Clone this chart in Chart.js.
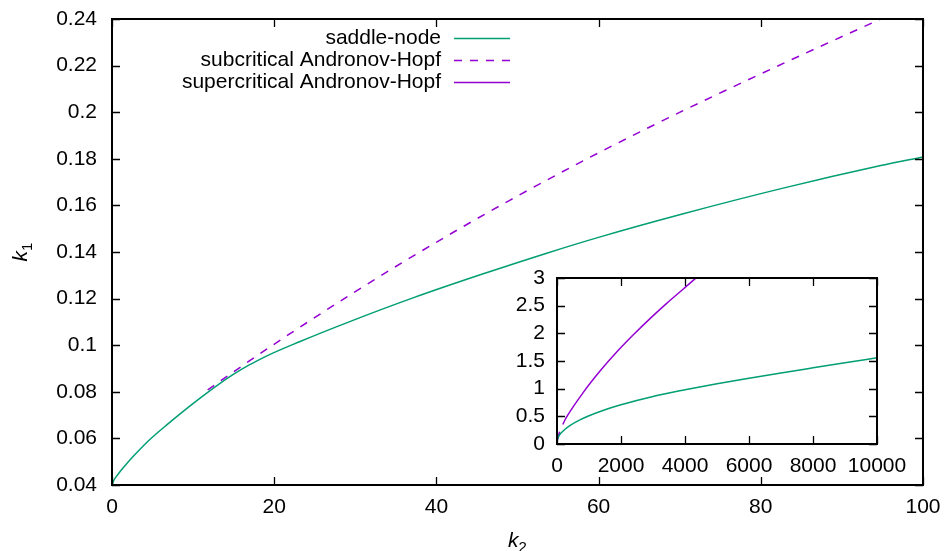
<!DOCTYPE html>
<html>
<head>
<meta charset="utf-8">
<script src="https://cdn.jsdelivr.net/npm/chart.js@4.4.0/dist/chart.umd.min.js"></script>
<style>
  body { margin: 0; background: #fff; }
  #wrap { position: relative; width: 948px; height: 551px; }
  #main { position: absolute; left: 0; top: 0; }
  #inset { position: absolute; left: 490px; top: 262px; }
</style>
</head>
<body>
<div id="wrap">
  <canvas id="main" width="948" height="551"></canvas>
  <canvas id="inset" width="420" height="215"></canvas>
</div>
<script>
// main plot: saddle-node curve
const snK2 = [0.02, 0.2, 0.5, 1, 1.7, 2.6, 4.5, 6.75, 10.9, 15, 19.1, 23.2, 29, 37.2, 45.4, 53.7, 60.2, 70.1, 82.5, 94.8, 100];
const snK1 = [0.0400, 0.0418, 0.0435, 0.0458, 0.0487, 0.0522, 0.0590, 0.0658, 0.0774, 0.0876, 0.0954, 0.1016, 0.1097, 0.1204, 0.1302, 0.1396, 0.1465, 0.1561, 0.1672, 0.1771, 0.1808];
// main plot: subcritical Andronov-Hopf
const subK2 = [11.8, 15, 21.8, 30, 36, 43, 49.1, 57.8, 66, 75.5, 85, 94.8, 96.5];
const subK1 = [0.0808, 0.0886, 0.1046, 0.1230, 0.1359, 0.1503, 0.1623, 0.1786, 0.1931, 0.2091, 0.2245, 0.2400, 0.2427];

// inset
const inSnK2 = [0, 20, 50, 100, 200, 400, 700, 1000, 1500, 2000, 3000, 4000, 5000, 6000, 7000, 8000, 9000, 10000];
const inSnK1 = [0.04, 0.098, 0.135, 0.18, 0.24, 0.33, 0.43, 0.51, 0.62, 0.71, 0.86, 0.98, 1.09, 1.19, 1.285, 1.377, 1.468, 1.558];
const inSubK2 = [12, 50, 95, 150, 200, 250];
const inSubK1 = [0.081, 0.162, 0.24, 0.31, 0.375, 0.435];
const inSupK2 = [250, 302, 823, 1344, 1865, 2385, 2906, 3427, 3948, 4312, 4500];
const inSupK1 = [0.435, 0.490, 0.933, 1.318, 1.662, 1.974, 2.266, 2.542, 2.802, 2.985, 3.075];

const xTicks = [0, 20, 40, 60, 80, 100];
const yTicks = [0.04, 0.06, 0.08, 0.1, 0.12, 0.14, 0.16, 0.18, 0.2, 0.22, 0.24];
const inXTicks = [0, 2000, 4000, 6000, 8000, 10000];
const inYTicks = [0, 0.5, 1, 1.5, 2, 2.5, 3];

const green = '#009e73';
const purple = '#9400d3';
const FONT = '"Liberation Sans", Arial, sans-serif';
const tickFont = { family: FONT, size: 21 };

const pts = (xs, ys) => xs.map((x, i) => ({ x: x, y: ys[i] }));

// gnuplot style: box round the plot, ticks pointing inwards on all sides
const boxTicks = {
  id: 'boxTicks',
  afterDraw(chart) {
    const { ctx, chartArea: a, scales: { x, y } } = chart;
    const len = 8;
    ctx.save();
    ctx.strokeStyle = '#000';
    ctx.lineWidth = 1.3;
    ctx.beginPath();
    x.ticks.forEach(t => {
      const px = Math.round(x.getPixelForValue(t.value)) + 0.5;
      ctx.moveTo(px, a.bottom); ctx.lineTo(px, a.bottom - len);
      ctx.moveTo(px, a.top); ctx.lineTo(px, a.top + len);
    });
    y.ticks.forEach(t => {
      const py = Math.round(y.getPixelForValue(t.value)) + 0.5;
      ctx.moveTo(a.left, py); ctx.lineTo(a.left + len, py);
      ctx.moveTo(a.right, py); ctx.lineTo(a.right - len, py);
    });
    ctx.stroke();
    ctx.lineWidth = 2;
    ctx.strokeRect(a.left, a.top, a.right - a.left, a.bottom - a.top);
    ctx.restore();
  }
};

function drawK(ctx, sub, cx, base) {
  ctx.font = 'italic 21px ' + FONT;
  const kw = ctx.measureText('k').width;
  ctx.font = '15px ' + FONT;
  const sw = ctx.measureText(sub).width;
  const left = cx - (kw + sw) / 2;
  ctx.fillStyle = '#000';
  ctx.textAlign = 'left';
  ctx.textBaseline = 'alphabetic';
  ctx.font = 'italic 21px ' + FONT;
  ctx.fillText('k', left, base);
  ctx.font = '15px ' + FONT;
  ctx.fillText(sub, left + kw, base + 5);
}

const axisTitles = {
  id: 'axisTitles',
  afterDraw(chart) {
    const { ctx, chartArea: a } = chart;
    ctx.save();
    drawK(ctx, '2', (a.left + a.right) / 2, 547);
    ctx.translate(27, (a.top + a.bottom) / 2);
    ctx.rotate(-Math.PI / 2);
    drawK(ctx, '1', 0, 0);
    ctx.restore();
  }
};

const gnuLegend = {
  id: 'gnuLegend',
  afterDraw(chart) {
    const ctx = chart.ctx;
    ctx.save();
    ctx.font = '21px ' + FONT;
    ctx.textAlign = 'right';
    ctx.textBaseline = 'middle';
    chart.data.datasets.forEach((ds, i) => {
      const y = 38 + i * 22;
      ctx.fillStyle = '#000';
      ctx.fillText(ds.label, 441, y);
      ctx.strokeStyle = ds.borderColor;
      ctx.lineWidth = 1.5;
      ctx.setLineDash(ds.borderDash || []);
      ctx.beginPath();
      ctx.moveTo(454, y + 0.5); ctx.lineTo(510, y + 0.5);
      ctx.stroke();
    });
    ctx.restore();
  }
};

// fixed axis size, and no extra room for labels hanging over the plot edges
const fixSize = (w, h) => s => {
  if (w) s.width = w;
  if (h) s.height = h;
  s.paddingTop = s.paddingBottom = s.paddingLeft = s.paddingRight = 0;
};

function scaleOpts(min, max, ticks, fmt, fit, pad) {
  return {
    type: 'linear', min: min, max: max,
    grid: { display: false, drawTicks: false },
    border: { display: false },
    afterBuildTicks: s => { s.ticks = ticks.map(v => ({ value: v })); },
    afterFit: fit,
    ticks: { font: tickFont, color: '#000', padding: pad, maxRotation: 0, autoSkip: false, callback: fmt }
  };
}

const numFmt = v => String(+v.toFixed(2));
const line = { showLine: true, pointRadius: 0, borderWidth: 1.5, cubicInterpolationMode: 'monotone' };

new Chart(document.getElementById('main'), {
  type: 'scatter',
  data: {
    datasets: [
      { ...line, label: 'saddle-node', data: pts(snK2, snK1), borderColor: green },
      { ...line, label: 'subcritical Andronov-Hopf', data: pts(subK2, subK1), borderColor: purple, borderDash: [8, 8] },
      { ...line, label: 'supercritical Andronov-Hopf', data: [], borderColor: purple }
    ]
  },
  options: {
    responsive: false,
    animation: false,
    layout: { padding: { top: 19, right: 25, left: 0, bottom: 0 } },
    plugins: { legend: { display: false }, tooltip: { enabled: false } },
    scales: {
      x: scaleOpts(0, 100, xTicks, v => String(v), fixSize(0, 66), 10),
      y: scaleOpts(0.04, 0.24, yTicks, numFmt, fixSize(112, 0), 15)
    }
  },
  plugins: [boxTicks, axisTitles, gnuLegend]
});

new Chart(document.getElementById('inset'), {
  type: 'scatter',
  data: {
    datasets: [
      { ...line, data: pts(inSnK2, inSnK1), borderColor: green },
      { ...line, data: pts(inSubK2, inSubK1), borderColor: purple, borderDash: [8, 8] },
      { ...line, data: pts(inSupK2, inSupK1), borderColor: purple }
    ]
  },
  options: {
    responsive: false,
    animation: false,
    layout: { padding: { top: 16, right: 33, left: 0, bottom: 0 } },
    plugins: { legend: { display: false }, tooltip: { enabled: false } },
    scales: {
      x: scaleOpts(0, 10000, inXTicks, v => String(v), fixSize(0, 33), 10),
      y: scaleOpts(0, 3, inYTicks, numFmt, fixSize(67, 0), 12)
    }
  },
  plugins: [boxTicks]
});
</script>
</body>
</html>
